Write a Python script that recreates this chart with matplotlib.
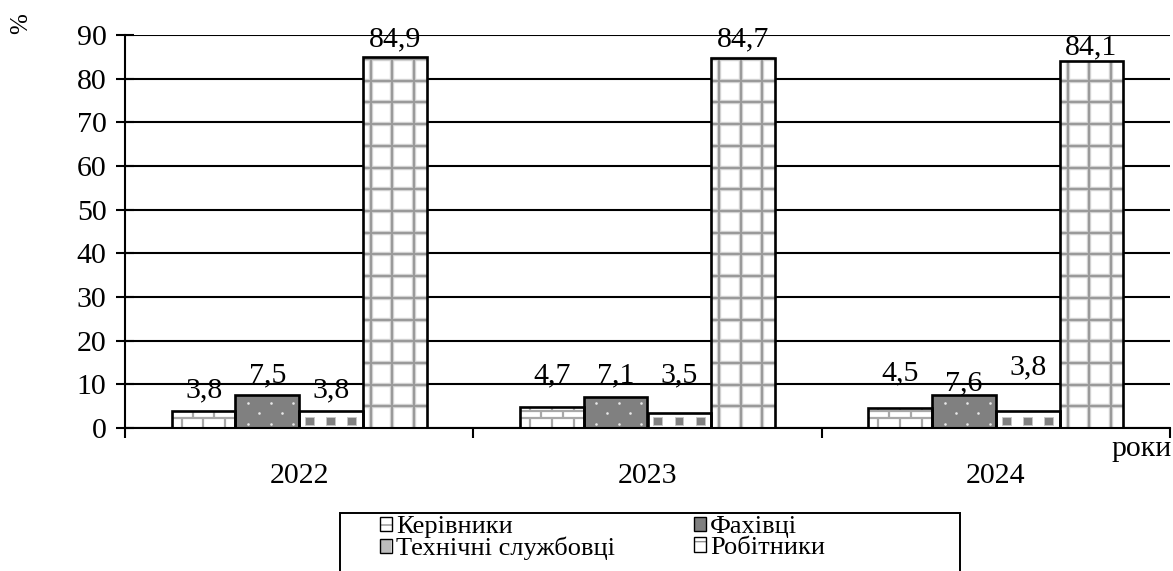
import matplotlib
matplotlib.use("Agg")
import numpy as np
import matplotlib.pyplot as plt
from matplotlib.collections import LineCollection, PatchCollection
from matplotlib.patches import Rectangle, Patch
from matplotlib.legend_handler import HandlerTuple

plt.rcParams["font.family"] = ["Liberation Serif", "DejaVu Serif"]

# ---- data -------------------------------------------------------------
years = ["2022", "2023", "2024"]
categories = ["Керівники", "Фахівці", "Технічні службовці", "Робітники"]
managers = [3.8, 4.7, 4.5]
specialists = [7.5, 7.1, 7.6]
clerks = [3.8, 3.5, 3.8]
workers = [84.9, 84.7, 84.1]
y_ticks = [0, 10, 20, 30, 40, 50, 60, 70, 80, 90]
x_name = "роки"
y_name = "%"

series = [managers, specialists, clerks, workers]

# distance (px) from bar top to label baseline, per series and year
label_lift = [[14, 25, 28],
              [13, 15, 4],
              [14, 30, 37],
              [11, 12, 6]]

# ---- figure / axes geometry -------------------------------------------
FW, FH = 1173, 571
fig = plt.figure(figsize=(FW / 100, FH / 100), dpi=100)
ax_l, ax_r, ax_t, ax_b = 125, 1170, 35, 428
ax = fig.add_axes([ax_l / FW, (FH - ax_b) / FH, (ax_r - ax_l) / FW, (ax_b - ax_t) / FH])
ax.set_xlim(-0.5, len(years) - 0.5)
ax.set_ylim(0, 90)

ux = (len(years)) / (ax_r - ax_l)     # data units per pixel, x
uy = 90 / (ax_b - ax_t)               # data units per pixel, y

bar_w = 63.7 * ux
x = np.arange(len(years))
offsets = (np.arange(4) - 1.5) * bar_w
faces = ["white", "#808080", "white", "white"]
FS = 21.5


def add_clipped(coll, bar):
    coll.set_clip_path(bar)
    ax.add_collection(coll)


def brick_pattern(bar):
    x0, w, h = bar.get_x(), bar.get_width(), bar.get_height()
    wpx, hpx = w / ux, h / uy
    segs = []
    lines = [10.5 + k * 6.7 for k in range(50) if 10.5 + k * 6.7 < hpx]
    for yp in lines:
        segs.append([(x0, yp * uy), (x0 + w, yp * uy)])
    bounds = [0.0] + lines + [hpx]
    for r in range(len(bounds) - 1):
        off = 10.0 if r % 2 == 0 else 20.8
        for xp in np.arange(off, wpx, 21.7):
            segs.append([(x0 + xp * ux, bounds[r] * uy), (x0 + xp * ux, bounds[r + 1] * uy)])
    add_clipped(LineCollection(segs, colors="#a8a8a8", linewidths=1.6, zorder=2.5), bar)


def dot_pattern(bar):
    x0, w, h = bar.get_x(), bar.get_width(), bar.get_height()
    wpx, hpx = w / ux, h / uy
    pts = []
    for r, yp in enumerate(np.arange(4.0, hpx, 10.7)):
        off = 12.6 if r % 2 == 0 else 23.6
        for xp in np.arange(off, wpx, 22.5):
            pts.append((x0 + xp * ux, yp * uy))
    pts = np.array(pts)
    sc = ax.scatter(pts[:, 0], pts[:, 1], s=3.5, color="#e8e8e8", linewidths=0, zorder=2.5)
    sc.set_clip_path(bar)


def square_pattern(bar):
    x0, w, h = bar.get_x(), bar.get_width(), bar.get_height()
    wpx, hpx = w / ux, h / uy
    rects = []
    for r, yp in enumerate(np.arange(3.0, hpx, 21.0)):
        off = 6.0 if r % 2 == 0 else 16.5
        for xp in np.arange(off, wpx, 21.0):
            rects.append(Rectangle((x0 + xp * ux, yp * uy), 9 * ux, 8 * uy))
    add_clipped(PatchCollection(rects, facecolor="#808080", edgecolor="#c8c8c8",
                                linewidths=0.6, zorder=2.5), bar)


def grid_pattern(bar):
    x0, w, h = bar.get_x(), bar.get_width(), bar.get_height()
    wpx, hpx = w / ux, h / uy
    segs = []
    for xp in np.arange(8.0, wpx, 21.5):
        segs.append([(x0 + xp * ux, 0), (x0 + xp * ux, h)])
    for yp in np.arange(21.7, hpx, 21.7):
        segs.append([(x0, yp * uy), (x0 + w, yp * uy)])
    add_clipped(LineCollection(segs, colors="#d8d8d8", linewidths=3.2, zorder=2.4), bar)
    segs2 = [list(s) for s in segs]
    add_clipped(LineCollection(segs2, colors="#9a9a9a", linewidths=1.6, zorder=2.5), bar)


patterns = [brick_pattern, dot_pattern, square_pattern, grid_pattern]

for s, vals in enumerate(series):
    bars = ax.bar(x + offsets[s], vals, width=bar_w, color=faces[s],
                  edgecolor="none", linewidth=0, zorder=2)
    for b in bars:
        patterns[s](b)
    ax.bar(x + offsets[s], vals, width=bar_w, fill=False,
           edgecolor="black", linewidth=1.9, zorder=3)
    for i, v in enumerate(vals):
        ax.annotate(f"{v:.1f}".replace(".", ","), (x[i] + offsets[s], v),
                    xytext=(0, label_lift[s][i] * 0.72), textcoords="offset points",
                    ha="center", va="baseline", fontsize=FS, zorder=4)

# ---- axes styling -----------------------------------------------------
ax.set_axisbelow(True)
ax.yaxis.grid(True, color="black", linewidth=1.5)
ax.xaxis.grid(False)
for side in ("top", "right"):
    ax.spines[side].set_visible(False)
for side in ("left", "bottom"):
    ax.spines[side].set_linewidth(1.5)
    ax.spines[side].set_color("black")

ax.set_yticks(y_ticks)
ax.set_yticklabels([str(t) for t in y_ticks])
ax.tick_params(axis="y", direction="inout", length=12.5, width=1.5, pad=7, labelsize=FS)

ax.set_xticks(x)
ax.set_xticklabels(years)
ax.set_xticks(np.arange(len(years) + 1) - 0.5, minor=True)
ax.tick_params(axis="x", which="major", length=0, pad=25, labelsize=FS)
ax.tick_params(axis="x", which="minor", direction="out", length=7, width=1.5)

fig.text(1172 / FW, 1 - 449 / FH, x_name, ha="right", va="center", fontsize=FS)
fig.text(21 / FW, 1 - 24 / FH, y_name, ha="center", va="center", fontsize=18, rotation=90)

# ---- legend -----------------------------------------------------------
outline = dict(fill=False, edgecolor="black", linewidth=1.0)
handles = {
    "Керівники": (Patch(facecolor="white", edgecolor="#909090", hatch="-", linewidth=0),
                  Patch(**outline)),
    "Фахівці": (Patch(facecolor="#808080", edgecolor="#e8e8e8", hatch=".", linewidth=0),
                Patch(**outline)),
    "Технічні службовці": (Patch(facecolor="#bdbdbd", edgecolor="#ffffff", hatch="|", linewidth=0),
                           Patch(**outline)),
    "Робітники": (Patch(facecolor="white", edgecolor="#909090", hatch="+", linewidth=0),
                  Patch(**outline)),
}
order = [categories[0], categories[2], categories[1], categories[3]]
fig.legend([handles[c] for c in order], order, ncol=2, loc="upper left",
           bbox_to_anchor=(380 / FW, 1 - 516 / FH), frameon=False,
           borderpad=0, borderaxespad=0, handlelength=0.45, handleheight=0.45,
           handletextpad=0.15, columnspacing=3.0, labelspacing=-0.04, fontsize=19,
           handler_map={tuple: HandlerTuple(ndivide=1, pad=0)})
fig.add_artist(Rectangle((340 / FW, -0.05), (960 - 340) / FW, (FH - 513) / FH + 0.05,
                         transform=fig.transFigure, fill=False,
                         edgecolor="black", linewidth=1.4))

fig.savefig("out.png", dpi=100)
